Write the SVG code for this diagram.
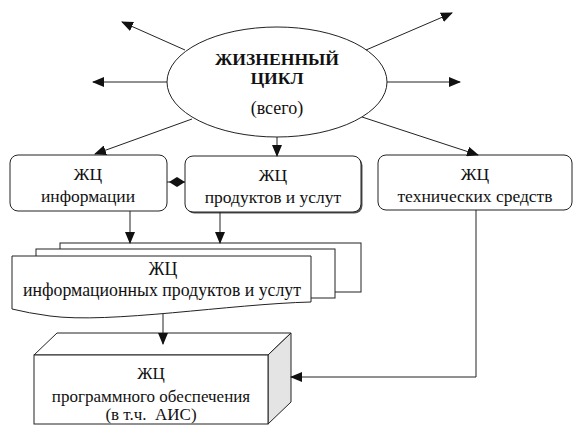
<svg xmlns="http://www.w3.org/2000/svg" width="586" height="436" viewBox="0 0 586 436">
<style>
.t{font-family:"Liberation Serif","DejaVu Serif",serif;font-size:17.5px;fill:#111;text-anchor:middle}
.b{font-weight:bold;font-size:17.6px}
.box{fill:#fff;stroke:#222;stroke-width:1}
.ln{fill:none;stroke:#222;stroke-width:1}
</style>
<defs>
<marker id="ah" markerWidth="12" markerHeight="10" refX="11" refY="5" orient="auto" markerUnits="userSpaceOnUse">
<path d="M0,0 L12,5 L0,10 Z" fill="#111"/>
</marker>
<marker id="dm" markerWidth="16" markerHeight="10" refX="16" refY="5" orient="auto" markerUnits="userSpaceOnUse">
<path d="M0,5 L8,0 L16,5 L8,10 Z" fill="#111"/>
</marker>
</defs>
<g id="lifecycle">
<ellipse class="box" cx="277" cy="82" rx="110" ry="55"/>
<text class="t b" x="277" y="65">ЖИЗНЕННЫЙ</text>
<text class="t b" x="277" y="84">ЦИКЛ</text>
<text class="t" x="277" y="114" style="font-size:18px">(всего)</text>
</g>
<g id="info">
<rect class="box" x="10" y="155" width="157" height="56" rx="8"/>
<text class="t" x="88" y="180">ЖЦ</text>
<text class="t" x="88" y="202">информации</text>
</g>
<g id="products">
<rect x="186.5" y="157.5" width="176" height="56" rx="8" fill="#555"/>
<rect class="box" x="185" y="156" width="176" height="56" rx="8"/>
<text class="t" x="273" y="181">ЖЦ</text>
<text class="t" x="273" y="203">продуктов и услут</text>
</g>
<g id="tech">
<rect class="box" x="378" y="155" width="194" height="55" rx="8"/>
<text class="t" x="475" y="180">ЖЦ</text>
<text class="t" x="475" y="202">технических средств</text>
</g>
<g id="infoproducts">
<rect class="box" x="60" y="243" width="301" height="49"/>
<rect class="box" x="36" y="249" width="299" height="49"/>
<path class="box" d="M12,256 H311 V302 C230,304 110,324 50,316 Q28,313 12,309 Z"/>
<text class="t" x="163" y="275" style="font-size:17.8px">ЖЦ</text>
<text class="t" x="162" y="296" style="font-size:17.8px">информационных продуктов и услут</text>
</g>
<g id="software">
<polygon class="box" points="34,355 57,333 291,333 268,355"/>
<polygon class="box" points="268,355 291,333 291,402 268,424" style="fill:#e4e4e4"/>
<rect class="box" x="34" y="355" width="234" height="69"/>
<text class="t" x="151" y="379" style="font-size:17px">ЖЦ</text>
<text class="t" x="151" y="402" style="font-size:17px">программного обеспечения</text>
<text class="t" x="151" y="420" style="font-size:17px" xml:space="preserve">(в т.ч.  АИС)</text>
</g>
<g id="connectors">
<line class="ln" x1="185" y1="50" x2="122" y2="22" marker-end="url(#ah)"/>
<line class="ln" x1="167" y1="82" x2="93" y2="82" marker-end="url(#ah)"/>
<line class="ln" x1="192" y1="119" x2="95" y2="154" marker-end="url(#ah)"/>
<line class="ln" x1="277" y1="137" x2="277" y2="156" marker-end="url(#ah)"/>
<line class="ln" x1="362" y1="117" x2="478" y2="155" marker-end="url(#ah)"/>
<line class="ln" x1="387" y1="82" x2="460" y2="82" stroke="#555" marker-end="url(#ah)"/>
<line class="ln" x1="366" y1="50" x2="452" y2="13" marker-end="url(#ah)"/>
<line class="ln" x1="167" y1="182" x2="185" y2="182" marker-end="url(#dm)"/>
<line class="ln" x1="130" y1="211" x2="130" y2="243" marker-end="url(#ah)"/>
<line class="ln" x1="220" y1="212" x2="220" y2="243" marker-end="url(#ah)"/>
<line class="ln" x1="163" y1="314" x2="163" y2="344" marker-end="url(#ah)"/>
<polyline class="ln" points="476,210 476,377 291,377" marker-end="url(#ah)"/>
</g>
</svg>
